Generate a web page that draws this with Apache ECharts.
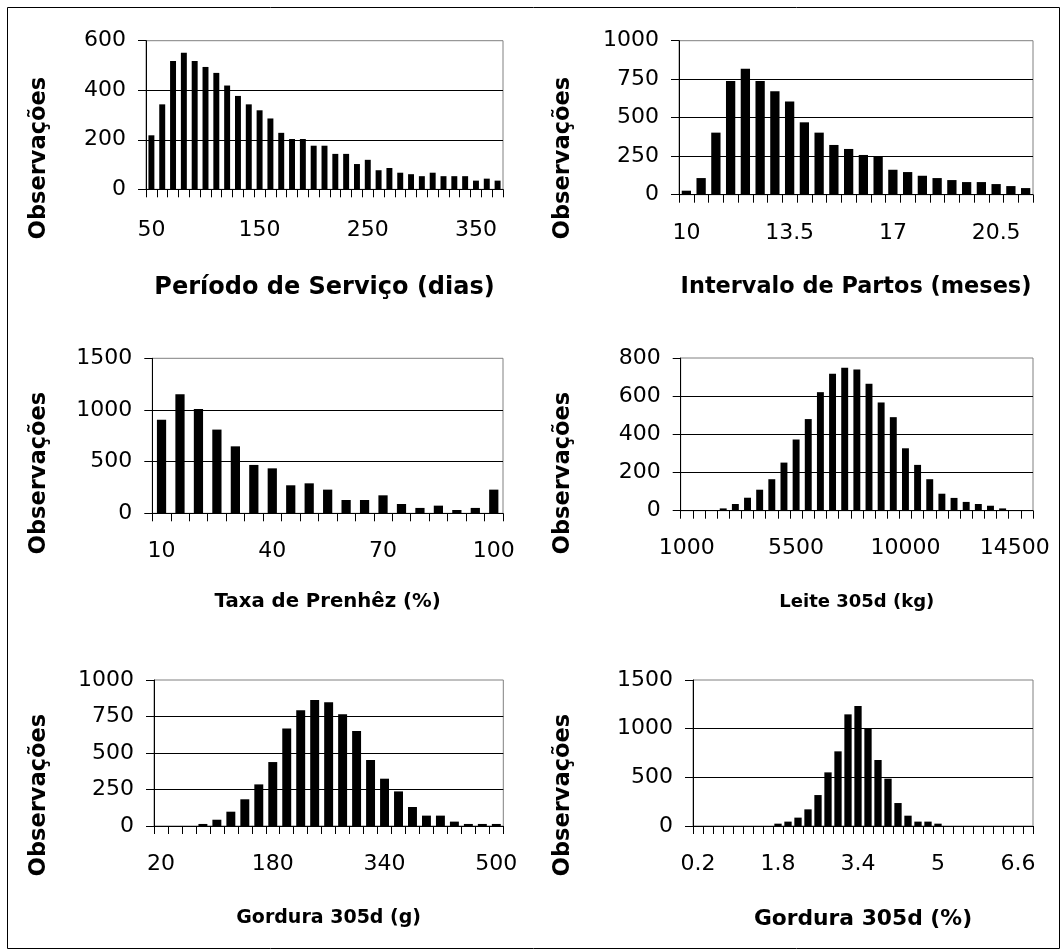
<!DOCTYPE html>
<html>
<head>
<meta charset="utf-8">
<title>Distribuições</title>
<script src="https://cdn.jsdelivr.net/npm/echarts@6/dist/echarts.min.js"></script>
<style>
  html, body { margin: 0; padding: 0; background: #fff; }
  #chart { width: 1062px; height: 951px; }
</style>
</head>
<body>
<div id="chart"></div>
<script>
"use strict";
// Período de Serviço (dias)
var servicoDias = ['50', '60', '70', '80', '90', '100', '110', '120', '130', '140', '150',
    '160', '170', '180', '190', '200', '210', '220', '230', '240', '250', '260', '270',
    '280', '290', '300', '310', '320', '330', '340', '350', '360', '370'];
var servicoObs = [218, 343, 518, 551, 518, 494, 470, 419, 377, 343, 319, 286, 228, 203, 203,
    176, 176, 143, 143, 102, 119, 77, 86, 67, 61, 53, 67, 53, 53, 53, 35, 43, 35];

// Intervalo de Partos (meses)
var partosMeses = ['10', '10.5', '11', '11.5', '12', '12.5', '13', '13.5', '14', '14.5', '15',
    '15.5', '16', '16.5', '17', '17.5', '18', '18.5', '19', '19.5', '20', '20.5', '21', '21.5'];
var partosObs = [26, 108, 403, 738, 818, 738, 671, 606, 470, 403, 323, 297, 258, 245, 162,
    147, 123, 108, 95, 82, 82, 69, 56, 43];

// Taxa de Prenhêz (%)
var prenhezTaxa = ['10', '15', '20', '25', '30', '35', '40', '45', '50', '55', '60', '65',
    '70', '75', '80', '85', '90', '95', '100'];
var prenhezObs = [906, 1152, 1010, 810, 648, 468, 435, 271, 290, 229, 129, 129, 174, 90, 52,
    74, 32, 52, 229];

// Leite 305d (kg)
var leiteKg = ['1000', '1500', '2000', '2500', '3000', '3500', '4000', '4500', '5000', '5500',
    '6000', '6500', '7000', '7500', '8000', '8500', '9000', '9500', '10000', '10500', '11000',
    '11500', '12000', '12500', '13000', '13500', '14000', '14500', '15000'];
var leiteObs = [0, 0, 0, 12, 35, 68, 110, 165, 252, 373, 480, 621, 718, 749, 740, 665, 567,
    490, 327, 240, 165, 89, 67, 46, 35, 26, 12, 0, 0];

// Gordura 305d (g)
var gorduraG = ['20', '40', '60', '80', '100', '120', '140', '160', '180', '200', '220', '240',
    '260', '280', '300', '320', '340', '360', '380', '400', '420', '440', '460', '480', '500'];
var gorduraGObs = [0, 0, 0, 14, 43, 98, 183, 285, 438, 667, 792, 863, 847, 765, 651, 452, 324,
    237, 130, 71, 71, 30, 14, 14, 14];

// Gordura 305d (%)
var gorduraPct = ['0.2', '0.4', '0.6', '0.8', '1', '1.2', '1.4', '1.6', '1.8', '2', '2.2', '2.4',
    '2.6', '2.8', '3', '3.2', '3.4', '3.6', '3.8', '4', '4.2', '4.4', '4.6', '4.8', '5', '5.2',
    '5.4', '5.6', '5.8', '6', '6.2', '6.4', '6.6', '6.8'];
var gorduraPctObs = [0, 0, 0, 0, 0, 0, 0, 0, 24, 45, 86, 171, 318, 551, 767, 1147, 1233, 1000,
    678, 486, 236, 106, 45, 45, 24, 0, 0, 0, 0, 0, 0, 0, 0, 0];

var FONT = 'DejaVu Sans';
var myChart = echarts.init(document.getElementById('chart'), null, { renderer: 'canvas' });

// configuração de cada painel
var paineis = [
    { cats: servicoDias, vals: servicoObs, title: 'Período de Serviço (dias)', titleSize: 24,
      grid: [146, 40.7, 357, 148.6], ymax: 600, ystep: 200, every: 10, xMargin: 30, nameGap: 86,
      gap: '45%', obs: [39, 158] },
    { cats: partosMeses, vals: partosObs, title: 'Intervalo de Partos (meses)', titleSize: 22.4,
      grid: [679, 40.7, 354, 154], ymax: 1000, ystep: 250, every: 7, xMargin: 28, nameGap: 81,
      gap: '37%', obs: [563, 158] },
    { cats: prenhezTaxa, vals: prenhezObs, title: 'Taxa de Prenhêz (%)', titleSize: 19.7,
      grid: [152.3, 358.3, 350.7, 155], ymax: 1500, ystep: 500, every: 6, xMargin: 27, nameGap: 79,
      gap: '50%', obs: [39, 473] },
    { cats: leiteKg, vals: leiteObs, title: 'Leite 305d (kg)', titleSize: 18,
      grid: [680.7, 358, 352.3, 152.7], ymax: 800, ystep: 200, every: 9, xMargin: 27, nameGap: 83,
      gap: '43%', obs: [563, 473] },
    { cats: gorduraG, vals: gorduraGObs, title: 'Gordura 305d (g)', titleSize: 19,
      grid: [154, 680, 349.3, 146], ymax: 1000, ystep: 250, every: 8, xMargin: 27, nameGap: 83,
      gap: '36%', obs: [39, 795] },
    { cats: gorduraPct, vals: gorduraPctObs, title: 'Gordura 305d (%)', titleSize: 21.8,
      grid: [693, 680, 340, 146], ymax: 1500, ystep: 500, every: 8, xMargin: 27, nameGap: 82,
      gap: '27%', obs: [563, 795] }
];

var option = {
    backgroundColor: '#fff',
    animation: false,
    grid: [], xAxis: [], yAxis: [], series: [], graphic: []
};

// moldura externa
option.graphic.push({
    type: 'rect', silent: true,
    shape: { x: 7.5, y: 7.5, width: 1052, height: 941 },
    style: { fill: 'none', stroke: '#000', lineWidth: 1 }
});

paineis.forEach(function(p, i) {
    option.grid.push({
        left: p.grid[0], top: p.grid[1], width: p.grid[2], height: p.grid[3],
        show: true, borderColor: '#808080', borderWidth: 1, backgroundColor: 'transparent'
    });
    option.xAxis.push({
        gridIndex: i, type: 'category', data: p.cats, boundaryGap: true,
        axisLine: { show: true, lineStyle: { color: '#000', width: 1 } },
        axisTick: { show: true, interval: 0, length: 8, lineStyle: { color: '#000' } },
        axisLabel: { interval: p.every - 1, margin: p.xMargin, color: '#000', fontSize: 22, fontFamily: FONT },
        splitLine: { show: false },
        name: p.title, nameLocation: 'middle', nameGap: p.nameGap,
        nameTextStyle: { color: '#000', fontSize: p.titleSize, fontWeight: 'bold', fontFamily: FONT }
    });
    option.yAxis.push({
        gridIndex: i, type: 'value', min: 0, max: p.ymax, interval: p.ystep,
        axisLine: { show: true, lineStyle: { color: '#000', width: 1 } },
        axisTick: { show: true, length: 8, lineStyle: { color: '#000' } },
        axisLabel: {
            margin: 20, color: '#000', fontSize: 22, fontFamily: FONT,
            formatter: function(v) { return String(v); } // sem separador de milhar
        },
        splitLine: { show: true, showMaxLine: false, lineStyle: { color: '#000', width: 1 } }
    });
    option.series.push({
        type: 'bar', xAxisIndex: i, yAxisIndex: i, data: p.vals,
        barCategoryGap: p.gap, silent: true,
        itemStyle: { color: '#000' }
    });
    // título do eixo y
    option.graphic.push({
        type: 'text', silent: true, x: p.obs[0], y: p.obs[1], rotation: Math.PI / 2,
        style: {
            text: 'Observações', fill: '#000',
            font: 'bold 22.5px "DejaVu Sans"',
            align: 'center', verticalAlign: 'middle',
            textAlign: 'center', textVerticalAlign: 'middle'
        }
    });
});

myChart.setOption(option);
</script>
</body>
</html>
